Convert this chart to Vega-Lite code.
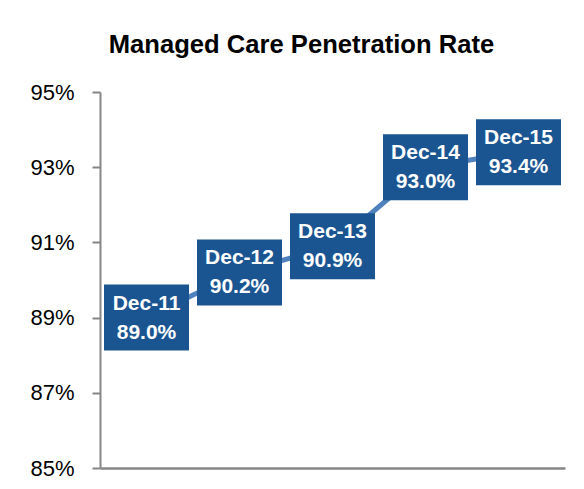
{
  "$schema": "https://vega.github.io/schema/vega-lite/v6.json",
  "width": 465,
  "height": 376,
  "padding": {"left": 29, "top": 33, "right": 5, "bottom": 5},
  "background": "white",
  "title": {
    "text": "Managed Care Penetration Rate",
    "font": "Liberation Sans",
    "fontSize": 25.6,
    "fontWeight": "bold",
    "color": "#000000",
    "anchor": "middle",
    "dx": -31,
    "offset": 22
  },
  "data": {
    "values": [
      {"period": "Dec-11", "rate": 0.890},
      {"period": "Dec-12", "rate": 0.902},
      {"period": "Dec-13", "rate": 0.909},
      {"period": "Dec-14", "rate": 0.930},
      {"period": "Dec-15", "rate": 0.934}
    ]
  },
  "encoding": {
    "x": {
      "field": "period",
      "type": "ordinal",
      "sort": null,
      "scale": {"type": "band", "paddingInner": 0, "paddingOuter": 0},
      "axis": {
        "title": null,
        "labels": false,
        "ticks": false,
        "grid": false,
        "domainColor": "#868686",
        "domainWidth": 2.5
      }
    },
    "y": {
      "field": "rate",
      "type": "quantitative",
      "scale": {"domain": [0.85, 0.95], "nice": false, "zero": false},
      "axis": {
        "title": null,
        "values": [0.85, 0.87, 0.89, 0.91, 0.93, 0.95],
        "format": ".0%",
        "grid": false,
        "domainColor": "#868686",
        "domainWidth": 2,
        "tickColor": "#868686",
        "tickWidth": 2,
        "tickSize": 8,
        "labelPadding": 18,
        "labelFont": "Liberation Sans",
        "labelFontSize": 22,
        "labelColor": "#000000"
      }
    }
  },
  "layer": [
    {
      "mark": {"type": "line", "color": "#4F81BD", "strokeWidth": 5}
    },
    {
      "mark": {
        "type": "point",
        "shape": "M-1,-0.7765H1V0.7765H-1Z",
        "size": 7225,
        "filled": true,
        "opacity": 1,
        "color": "#1A5592",
        "strokeWidth": 0
      }
    },
    {
      "mark": {
        "type": "text",
        "font": "Liberation Sans",
        "fontSize": 21,
        "fontWeight": "bold",
        "color": "#FFFFFF",
        "baseline": "middle",
        "align": "center",
        "dy": -14
      },
      "encoding": {"text": {"field": "period"}}
    },
    {
      "mark": {
        "type": "text",
        "font": "Liberation Sans",
        "fontSize": 21,
        "fontWeight": "bold",
        "color": "#FFFFFF",
        "baseline": "middle",
        "align": "center",
        "dy": 15
      },
      "encoding": {"text": {"field": "rate", "format": ".1%"}}
    }
  ],
  "config": {"view": {"stroke": null}}
}
